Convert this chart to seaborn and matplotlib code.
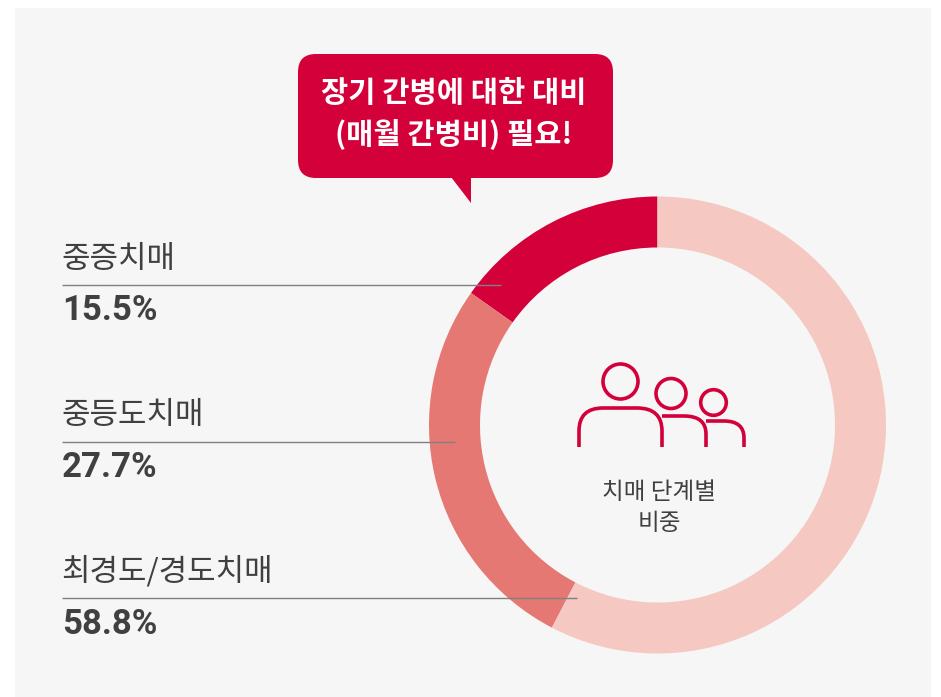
import numpy as np
import pandas as pd
import matplotlib
matplotlib.use("Agg")
import matplotlib.pyplot as plt
import seaborn as sns
from matplotlib.patches import FancyBboxPatch, Polygon, Circle, PathPatch, Rectangle
from matplotlib.path import Path

stages = ['중증치매', '중등도치매', '최경도/경도치매']
shares = [15.5, 27.7, 58.8]
share_labels = ['15.5%', '27.7%', '58.8%']
ring_colors = ['#d3003a', '#e57873', '#f5c8c1']
callout = '장기 간병에 대한 대비\n(매월 간병비) 필요!'
center_label = '치매 단계별\n비중'

W, H = 941, 697
RED = '#d3003a'
TXT = '#404040'

sns.set_theme(style='white')
plt.rcParams['font.family'] = ['Noto Sans CJK KR', 'DejaVu Sans']

df = pd.DataFrame({'stage': stages, 'share': shares, 'label': share_labels})

fig = plt.figure(figsize=(W / 100, H / 100), dpi=100, facecolor='white')

# gray panel, behind everything
bg = fig.add_axes([0, 0, 1, 1])
bg.set_xlim(0, W)
bg.set_ylim(H, 0)
bg.axis('off')
bg.add_patch(Rectangle((15.5, 8), 915.5, 689, fc='#f6f6f6', ec='none'))

# donut
cx, cy, r = 657.5, 425, 228.5
pie_ax = fig.add_axes([(cx - r) / W, 1 - (cy + r) / H, 2 * r / W, 2 * r / H])
pie_ax.pie(df['share'], colors=ring_colors, startangle=90, counterclock=True,
           radius=1, wedgeprops={'width': 51 / r, 'linewidth': 0})
pie_ax.set_xlim(-1, 1)
pie_ax.set_ylim(-1, 1)

# pixel overlay for the text and the callout
ax = fig.add_axes([0, 0, 1, 1])
ax.set_xlim(0, W)
ax.set_ylim(H, 0)
ax.axis('off')
ax.patch.set_alpha(0)

line_ends = [501, 455, 577]
for i, row in df.iterrows():
    y = 285 + i * 156.5
    ax.text(61, y - 10, row['stage'], fontsize=22.3, color=TXT, ha='left', va='bottom')
    ax.plot([62, line_ends[i]], [y, y], color='#808080', lw=1.0, solid_capstyle='butt')
    ax.text(62, y + 26, row['label'], fontsize=25, fontweight='bold', color=TXT,
            ha='left', va='center', family=['Roboto', 'DejaVu Sans'])

# callout
ax.add_patch(FancyBboxPatch((315, 71), 281, 90, boxstyle='round,pad=17,rounding_size=18',
                            fc=RED, ec='none'))
ax.add_patch(Polygon([(451, 177), (471.5, 177), (471.5, 203)], fc=RED, ec='none'))
ax.text(454, 114, callout, color='white', fontsize=21.3, fontweight='bold',
        ha='center', va='center', linespacing=1.45)

# people icon
for hx, hy, hr in [(620.5, 381.5, 17.5), (671, 393.5, 15), (713.5, 402.5, 12.8)]:
    ax.add_patch(Circle((hx, hy), hr, fc='none', ec=RED, lw=2.6))

M, L, C = Path.MOVETO, Path.LINETO, Path.CURVE3
bodies = [
    ([(579, 447), (579, 431), (579, 408), (603, 408), (637, 408), (662, 408), (662, 431), (662, 447)],
     [M, L, C, C, L, C, C, L]),
    ([(662, 416), (684, 416), (706, 416), (706, 434), (706, 447)],
     [M, L, C, C, L]),
    ([(706, 421), (724, 421), (744, 421), (744, 438), (744, 447)],
     [M, L, C, C, L]),
]
for verts, codes in bodies:
    ax.add_patch(PathPatch(Path(verts, codes), fc='none', ec=RED, lw=2.6, capstyle='butt'))

ax.text(659, 508, center_label, color=TXT, fontsize=17, ha='center', va='center',
        linespacing=1.4)

fig.savefig('out.png', dpi=100, facecolor='white')
